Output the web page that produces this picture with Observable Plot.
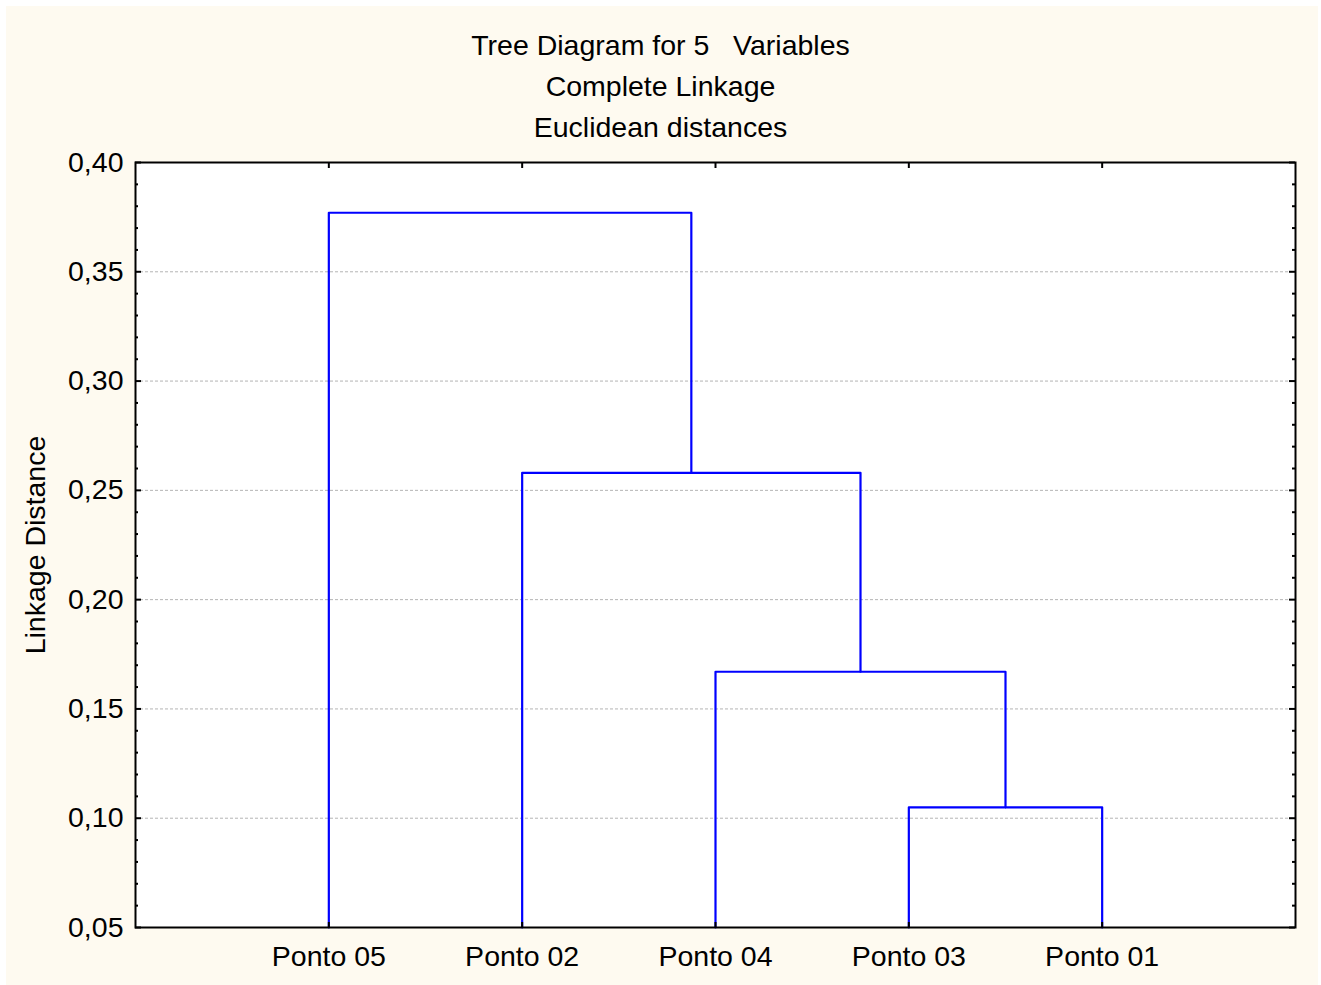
<!DOCTYPE html>
<html>
<head>
<meta charset="utf-8">
<script src="https://cdn.jsdelivr.net/npm/d3@7"></script>
<script src="https://cdn.jsdelivr.net/npm/@observablehq/plot@0.6"></script>
<style>
  html, body { margin: 0; padding: 0; background: #ffffff; }
  #page { position: absolute; left: 6px; top: 6px; width: 1312px; height: 979px; background: #fefaf0; }
  #chart { position: absolute; left: 0; top: 0; }
  #titles { position: absolute; left: 0; top: 25px; width: 1321px; text-align: center;
            font-family: "Liberation Sans", Arial, sans-serif; font-size: 28.5px; line-height: 41px; color: #000; white-space: pre; }
</style>
</head>
<body>
<div id="page"></div>
<div id="chart"></div>
<div id="titles"></div>
<script>
// ---- data ----
const titleLines = ["Tree Diagram for 5   Variables", "Complete Linkage", "Euclidean distances"];
const leaves = ["Ponto 05", "Ponto 02", "Ponto 04", "Ponto 03", "Ponto 01"];
// node ids: 0..4 are leaves (in display order), 5.. are merges in order
const mergeLeft = [3, 2, 1, 0];
const mergeRight = [4, 5, 6, 7];
const mergeHeight = [0.105, 0.167, 0.258, 0.377];
const yTicks = [0.05, 0.10, 0.15, 0.20, 0.25, 0.30, 0.35, 0.40];
const yGrid = [0.10, 0.15, 0.20, 0.25, 0.30, 0.35];
const yLabel = "Linkage Distance";
const yMin = 0.05, yMax = 0.40;

// ---- build dendrogram segments ----
const nodeX = leaves.map((_, i) => i + 1);
const nodeY = leaves.map(() => yMin);
const segs = [];
mergeHeight.forEach((h, k) => {
  const l = mergeLeft[k], r = mergeRight[k];
  segs.push({k, x: nodeX[l], y: nodeY[l]});
  segs.push({k, x: nodeX[l], y: h});
  segs.push({k, x: nodeX[r], y: h});
  segs.push({k, x: nodeX[r], y: nodeY[r]});
  nodeX.push((nodeX[l] + nodeX[r]) / 2);
  nodeY.push(h);
});

const W = 1321, H = 985;
const mL = 135, mR = 26, mT = 162, mB = 58;
const fw = W - mL - mR, fh = H - mT - mB;
const minor = d3.range(6, 40).map(v => v / 100).filter(v => Math.round(v * 100) % 5 !== 0);
const fmt = d => d.toFixed(2).replace(".", ",");

document.getElementById("titles").textContent = titleLines.join("\n");

const chart = Plot.plot({
  width: W, height: H,
  marginLeft: mL, marginRight: mR, marginTop: mT, marginBottom: mB,
  style: { fontFamily: "Liberation Sans, Arial, sans-serif", fontSize: "28.5px", background: "transparent", color: "#000" },
  x: { domain: [0, leaves.length + 1], axis: null },
  y: { domain: [yMin, yMax], axis: null },
  marks: [
    Plot.frame({ fill: "white", stroke: null }),
    Plot.gridY(yGrid, { stroke: "#b4b4b4", strokeOpacity: 1, strokeDasharray: "3,2", strokeWidth: 1 }),
    Plot.line(segs, { x: "x", y: "y", z: "k", stroke: "#0000ff", strokeWidth: 2.2, curve: "linear" }),
    // inner ticks
    Plot.tickY(yTicks, { y: d => d, insetRight: fw - 6, stroke: "black", strokeWidth: 2 }),
    Plot.tickY(yTicks, { y: d => d, insetLeft: fw - 6, stroke: "black", strokeWidth: 2 }),
    Plot.tickY(minor, { y: d => d, insetRight: fw - 3, stroke: "black", strokeWidth: 2 }),
    Plot.tickY(minor, { y: d => d, insetLeft: fw - 3, stroke: "black", strokeWidth: 2 }),
    Plot.tickX(nodeX.slice(0, leaves.length), { x: d => d, insetBottom: fh - 6, stroke: "black", strokeWidth: 2 }),
    Plot.tickX(nodeX.slice(0, leaves.length), { x: d => d, insetTop: fh - 5, stroke: "black", strokeWidth: 2 }),
    Plot.axisY(yTicks, { tickSize: 0, tickPadding: 12, tickFormat: fmt, label: yLabel, labelAnchor: "center", labelArrow: "none", labelOffset: 111, fontSize: 28.5 }),
    Plot.axisX(nodeX.slice(0, leaves.length), { tickSize: 0, tickPadding: 18, tickFormat: d => leaves[d - 1], label: null, fontSize: 28.5 }),
    Plot.frame({ stroke: "black", strokeWidth: 2 })
  ]
});
document.getElementById("chart").appendChild(chart);
</script>
</body>
</html>
